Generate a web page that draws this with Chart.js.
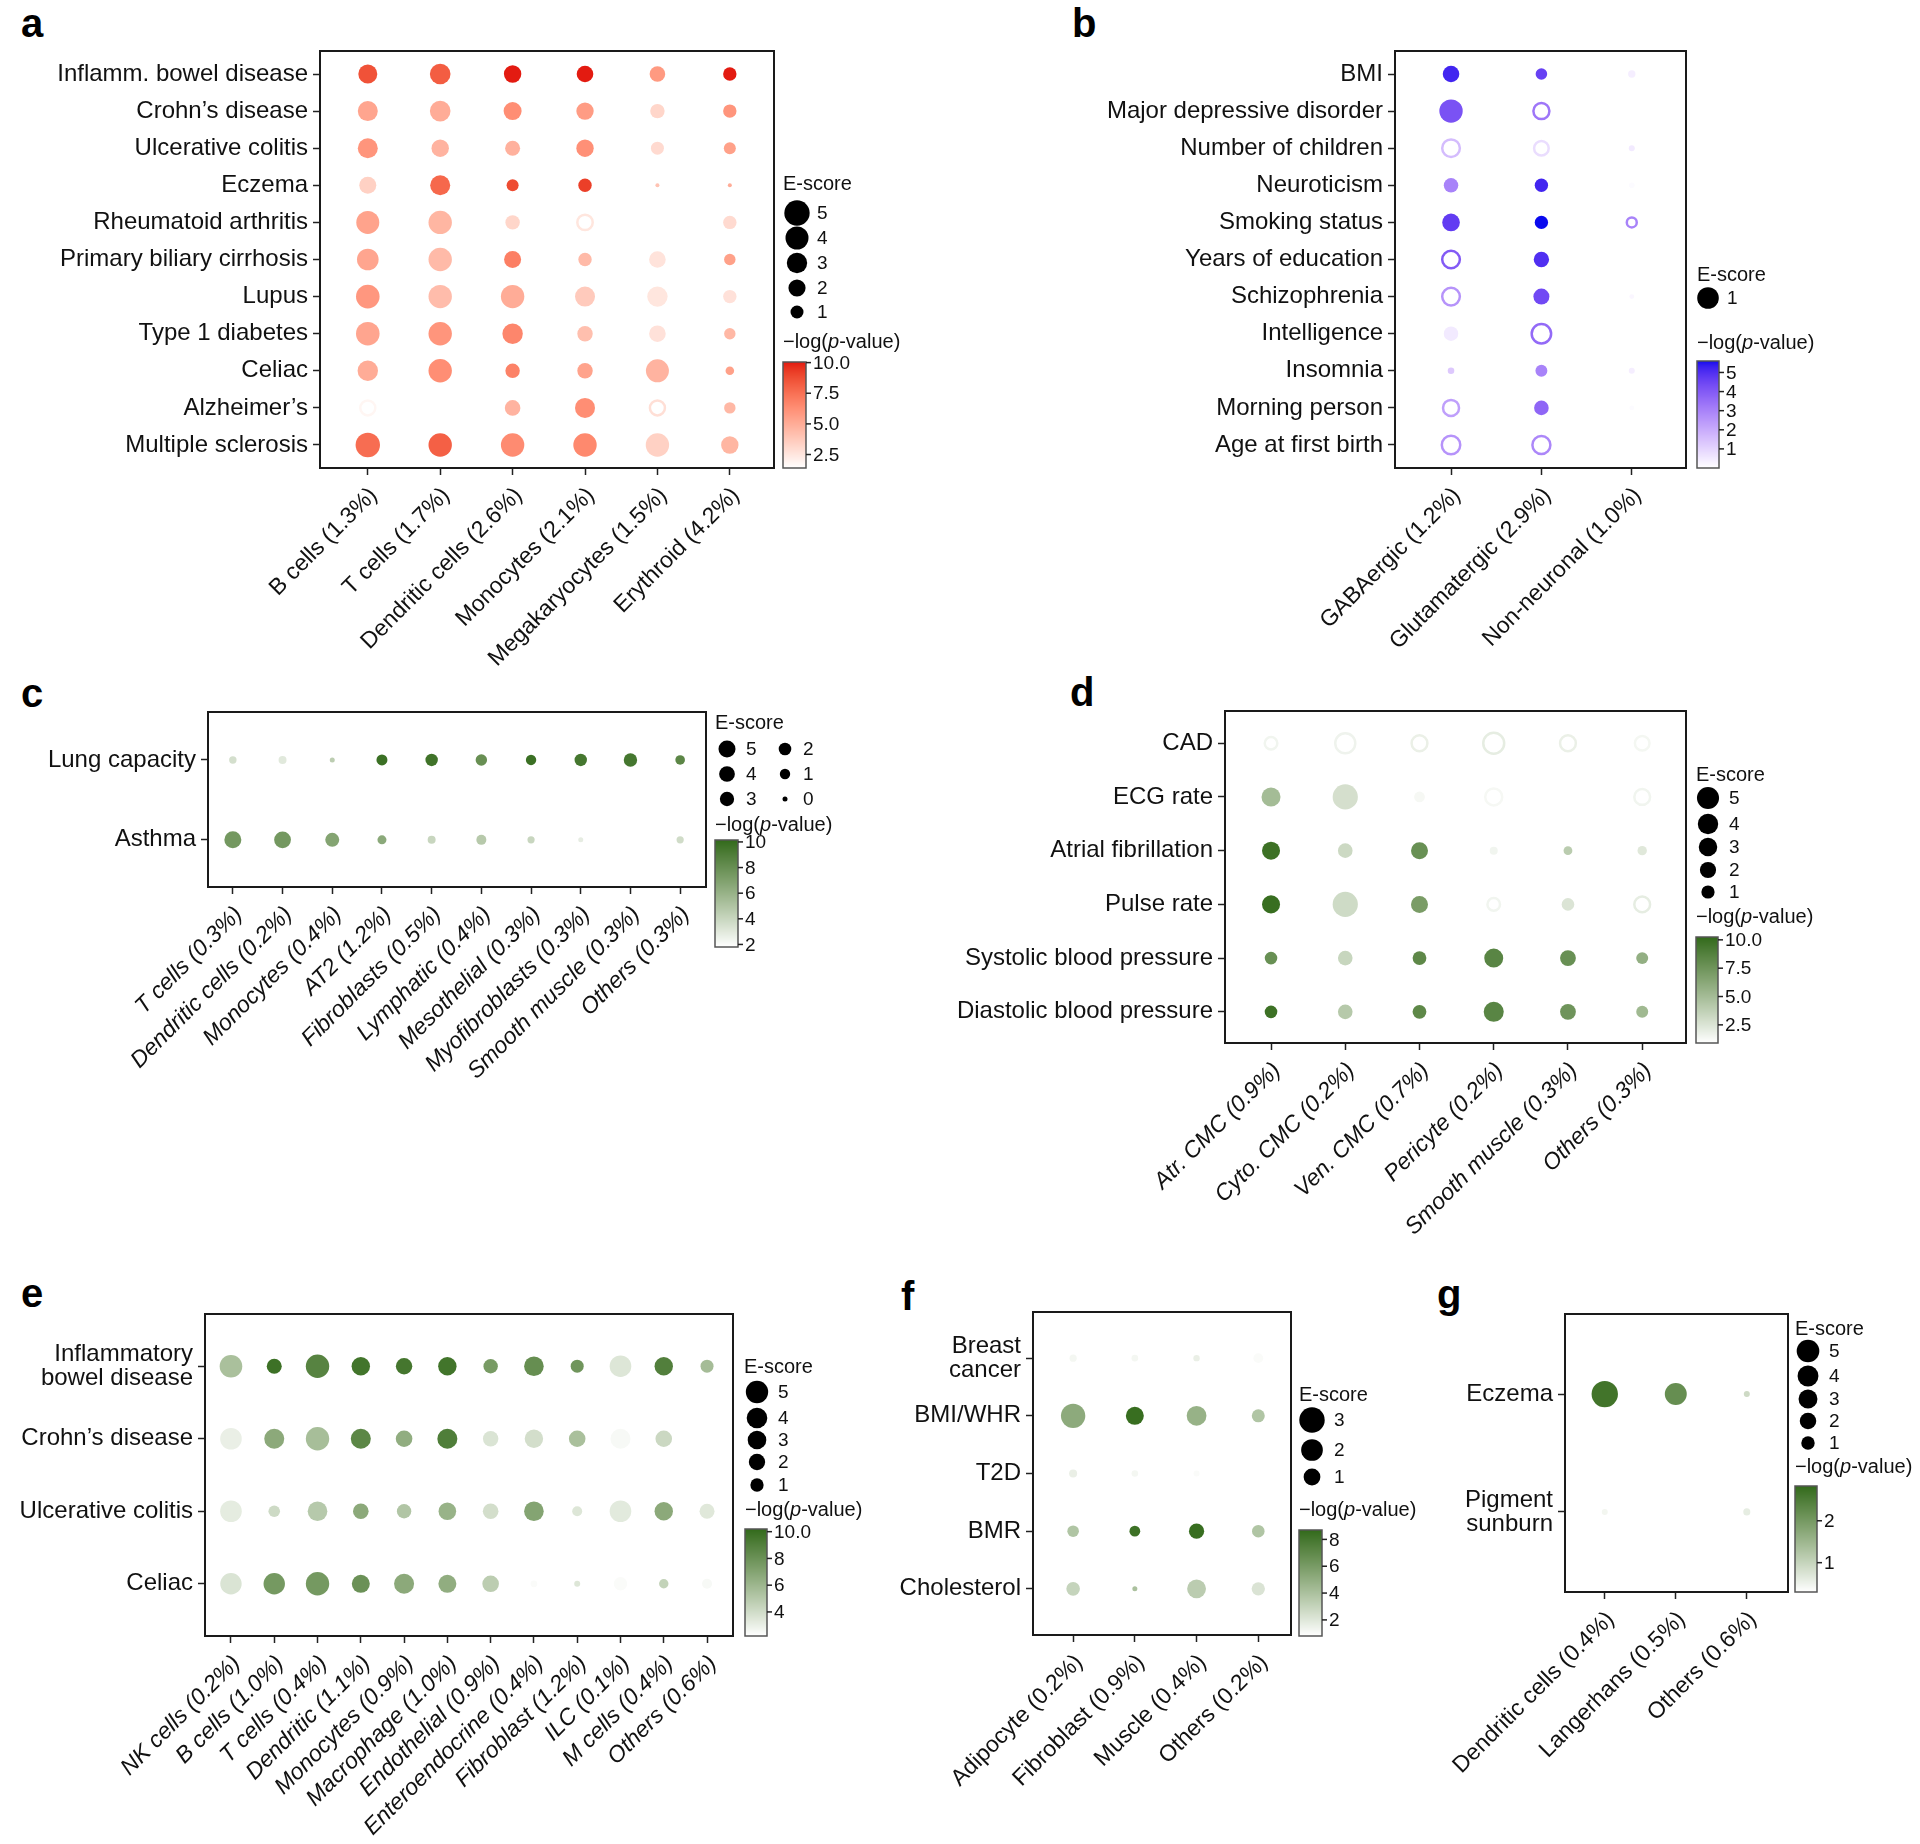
<!DOCTYPE html>
<html>
<head>
<meta charset="utf-8">
<script src="https://cdn.jsdelivr.net/npm/chart.js@4.4.1/dist/chart.umd.min.js"></script>
<style>
  body { margin: 0; width: 1920px; height: 1844px; background: #fff; position: relative; overflow: hidden;
         font-family: "Liberation Sans", Arial, Helvetica, sans-serif; }
  canvas { position: absolute; left: 0; top: 0; }
  .tag { position: absolute; font-weight: bold; font-size: 40px; line-height: 40px; color: #000; }
</style>
</head>
<body>
<div class="tag" style="left:21px;top:3px">a</div>
<div class="tag" style="left:1072px;top:3px">b</div>
<div class="tag" style="left:21px;top:673px">c</div>
<div class="tag" style="left:1070px;top:672px">d</div>
<div class="tag" style="left:21px;top:1273px">e</div>
<div class="tag" style="left:901px;top:1276px">f</div>
<div class="tag" style="left:1437px;top:1274px">g</div>
<script>
const W = 1920, H = 1844;
const FONT = '"Liberation Sans", Arial, Helvetica, sans-serif';

// ===== a: blood cell types (red) =====
const aTraits = ["Inflamm. bowel disease", "Crohn’s disease", "Ulcerative colitis", "Eczema",
  "Rheumatoid arthritis", "Primary biliary cirrhosis", "Lupus", "Type 1 diabetes", "Celiac",
  "Alzheimer’s", "Multiple sclerosis"];
const aCells = ["B cells (1.3%)", "T cells (1.7%)", "Dendritic cells (2.6%)", "Monocytes (2.1%)",
  "Megakaryocytes (1.5%)", "Erythroid (4.2%)"];
// E-score (negative = open circle), null = no dot
const aScore = [
  [2.56, 3.1, 2.07, 1.85, 1.59, 1.08],
  [2.89, 3.1, 2.25, 2.07, 1.3, 1.08],
  [2.89, 2.07, 1.44, 2.07, 1.0, 0.81],
  [1.96, 2.89, 0.81, 1.08, 0.01, 0.01],
  [4.0, 4.16, 1.3, -1.54, null, 1.08],
  [3.46, 4.16, 1.96, 1.08, 1.85, 0.71],
  [4.24, 4.16, 4.16, 2.89, 3.03, 1.08],
  [4.24, 4.16, 3.03, 1.54, 1.85, 0.71],
  [3.03, 4.16, 1.3, 1.54, 4.0, 0.31],
  [-1.44, null, 1.59, 2.89, -1.44, 0.71],
  [4.58, 4.16, 4.16, 4.16, 4.16, 2.07]
];
const aLogP = [
  [8.6, 8.2, 10.0, 10.0, 5.8, 10.0],
  [5.3, 5.0, 6.3, 5.7, 3.2, 6.0],
  [6.0, 4.7, 4.8, 6.2, 3.0, 5.5],
  [3.4, 7.8, 8.8, 9.2, 4.0, 5.0],
  [5.4, 4.6, 3.2, 2.5, null, 3.0],
  [5.3, 4.4, 6.9, 4.4, 2.6, 5.5],
  [5.9, 4.3, 5.0, 3.7, 2.5, 2.7],
  [5.3, 6.0, 6.6, 4.2, 2.7, 4.5],
  [5.0, 6.3, 6.8, 5.4, 4.7, 5.5],
  [1.8, null, 4.7, 6.3, 2.8, 4.5],
  [7.6, 8.1, 6.4, 6.5, 3.4, 4.6]
];
const aSizeBreaks = [5, 4, 3, 2, 1];
const aBarTicks = [10, 7.5, 5, 2.5];
const aBarLabels = ["10.0", "7.5", "5.0", "2.5"];

// ===== b: brain cell types (blue) =====
const bTraits = ["BMI", "Major depressive disorder", "Number of children", "Neuroticism", "Smoking status",
  "Years of education", "Schizophrenia", "Intelligence", "Insomnia", "Morning person", "Age at first birth"];
const bCells = ["GABAergic (1.2%)", "Glutamatergic (2.9%)", "Non-neuronal (1.0%)"];
const bScore = [
  [0.53, 0.21, 0.056],
  [1.2, -0.49, null],
  [-0.62, -0.39, 0.026],
  [0.38, 0.31, 0.02],
  [0.62, 0.31, -0.14],
  [-0.62, 0.44, null],
  [-0.62, 0.49, 0.01],
  [0.38, -0.78, null],
  [0.037, 0.23, 0.026],
  [-0.49, 0.39, 0.01],
  [-0.69, -0.65, null]
];
const bLogP = [
  [5.2, 4.6, 0.4],
  [4.2, 3.3, null],
  [1.6, 0.8, 0.5],
  [3.0, 5.2, 0.1],
  [4.7, 5.6, 3.0],
  [4.0, 5.0, null],
  [2.6, 4.4, 0.2],
  [0.5, 3.6, null],
  [1.3, 3.0, 0.4],
  [2.3, 3.7, 0.1],
  [2.6, 2.9, null]
];
const bSizeBreaks = [1];
const bBarTicks = [5, 4, 3, 2, 1];
const bBarLabels = ["5", "4", "3", "2", "1"];

// ===== c: lung (green) =====
const cTraits = ["Lung capacity", "Asthma"];
const cCells = ["T cells (0.3%)", "Dendritic cells (0.2%)", "Monocytes (0.4%)", "AT2 (1.2%)",
  "Fibroblasts (0.5%)", "Lymphatic (0.4%)", "Mesothelial (0.3%)", "Myofibroblasts (0.3%)",
  "Smooth muscle (0.3%)", "Others (0.3%)"];
const cScore = [
  [0.2, 0.31, 0.0, 1.25, 1.9, 1.43, 1.0, 1.9, 2.46, 0.74],
  [5.0, 4.85, 2.82, 0.56, 0.31, 0.87, 0.17, 0.0, null, 0.17]
];
const cLogP = [
  [3.5, 3.0, 4.5, 9.8, 9.6, 8.0, 9.8, 9.4, 9.4, 8.5],
  [7.5, 7.5, 6.8, 6.5, 4.0, 4.7, 4.0, 2.8, null, 3.7]
];
const cSizeBreaks = [5, 4, 3, 2, 1, 0];
const cBarTicks = [10, 8, 6, 4, 2];
const cBarLabels = ["10", "8", "6", "4", "2"];

// ===== d: heart (green) =====
const dTraits = ["CAD", "ECG rate", "Atrial fibrillation", "Pulse rate", "Systolic blood pressure",
  "Diastolic blood pressure"];
const dCells = ["Atr. CMC (0.9%)", "Cyto. CMC (0.2%)", "Ven. CMC (0.7%)", "Pericyte (0.2%)",
  "Smooth muscle (0.3%)", "Others (0.3%)"];
const dScore = [
  [-0.84, -3.8, -1.85, -4.3, -1.85, -1.43],
  [3.26, 7.1, 0.44, -2.33, null, -1.85],
  [2.8, 1.43, 2.33, 0.08, 0.15, 0.22],
  [2.8, 7.1, 2.33, -0.84, 0.84, -1.85],
  [0.84, 1.43, 1.17, 3.26, 1.85, 0.69],
  [0.84, 1.43, 1.17, 3.8, 1.85, 0.69]
];
const dLogP = [
  [1.5, 1.6, 1.8, 2.0, 1.8, 1.4],
  [5.0, 2.8, 1.3, 1.3, null, 1.5],
  [9.8, 3.2, 7.8, 1.5, 4.0, 2.3],
  [10.0, 3.1, 7.0, 1.5, 2.5, 2.0],
  [7.8, 3.4, 8.3, 8.5, 7.8, 5.8],
  [9.8, 4.2, 8.3, 8.5, 7.5, 5.2]
];
const dSizeBreaks = [5, 4, 3, 2, 1];
const dBarTicks = [10, 7.5, 5, 2.5];
const dBarLabels = ["10.0", "7.5", "5.0", "2.5"];

// ===== e: gut (green) =====
const eTraits = [["Inflammatory", "bowel disease"], "Crohn’s disease", "Ulcerative colitis", "Celiac"];
const eCells = ["NK cells (0.2%)", "B cells (1.0%)", "T cells (0.4%)", "Dendritic (1.1%)",
  "Monocytes (0.9%)", "Macrophage (1.0%)", "Endothelial (0.9%)", "Enteroendocrine (0.4%)",
  "Fibroblast (1.2%)", "ILC (0.1%)", "M cells (0.4%)", "Others (0.6%)"];
const eScore = [
  [5.17, 1.52, 5.68, 2.89, 2.03, 2.89, 1.32, 3.47, 0.92, 4.57, 2.89, 0.92],
  [4.57, 3.68, 5.68, 3.68, 2.1, 3.68, 1.66, 2.89, 2.1, 3.68, 2.1, null],
  [4.57, 0.59, 3.47, 1.73, 1.32, 2.52, 1.73, 3.47, 0.3, 4.57, 2.89, 1.52],
  [4.45, 4.45, 5.68, 2.7, 3.68, 2.7, 2.1, 0.01, 0.0, 1.03, 0.22, 0.3]
];
const eLogP = [
  [5.5, 9.8, 8.8, 9.6, 9.5, 9.6, 7.5, 8.2, 7.8, 3.5, 9.0, 5.7],
  [3.0, 6.7, 5.6, 8.6, 6.5, 9.1, 3.6, 3.9, 5.5, 2.5, 4.2, null],
  [3.2, 4.1, 5.0, 6.7, 5.2, 6.2, 3.9, 7.0, 3.5, 3.3, 6.7, 3.4],
  [3.6, 7.6, 7.6, 8.0, 6.7, 6.5, 4.8, 2.4, 3.5, 2.4, 4.5, 2.5]
];
const eSizeBreaks = [5, 4, 3, 2, 1];
const eBarTicks = [10, 8, 6, 4];
const eBarLabels = ["10.0", "8", "6", "4"];

// ===== f: adipose (green) =====
const fTraits = [["Breast", "cancer"], "BMI/WHR", "T2D", "BMR", "Cholesterol"];
const fCells = ["Adipocyte (0.2%)", "Fibroblast (0.9%)", "Muscle (0.4%)", "Others (0.2%)"];
const fScore = [
  [0.035, 0.018, 0.014, 0.165],
  [2.7, 1.21, 1.57, 0.46],
  [0.065, 0.018, 0.007, null],
  [0.31, 0.24, 0.75, 0.41],
  [0.53, 0.0, 1.37, 0.5]
];
const fLogP = [
  [1.2, 1.2, 1.6, 1.0],
  [5.2, 8.5, 4.8, 3.8],
  [1.6, 1.2, 1.0, null],
  [3.8, 8.3, 8.5, 3.8],
  [3.0, 4.0, 3.4, 2.2]
];
const fSizeBreaks = [3, 2, 1];
const fBarTicks = [8, 6, 4, 2];
const fBarLabels = ["8", "6", "4", "2"];

// ===== g: skin (green) =====
const gTraits = ["Eczema", ["Pigment", "sunburn"]];
const gCells = ["Dendritic cells (0.4%)", "Langerhans (0.5%)", "Others (0.6%)"];
const gScore = [
  [7.5, 4.6, 0.0],
  [0.0, null, 0.02]
];
const gLogP = [
  [2.65, 2.2, 0.9],
  [0.45, null, 0.6]
];
const gSizeBreaks = [5, 4, 3, 2, 1];
const gBarTicks = [2, 1];
const gBarLabels = ["2", "1"];

// ---- colour helpers (Lab interpolation from white, like ggplot gradients) ----
function hexRgb(h) { return [1, 3, 5].map(i => parseInt(h.slice(i, i + 2), 16)); }
function lin(c) { c /= 255; return c <= 0.04045 ? c / 12.92 : Math.pow((c + 0.055) / 1.055, 2.4); }
function gam(c) { c = c <= 0.0031308 ? 12.92 * c : 1.055 * Math.pow(c, 1 / 2.4) - 0.055; return Math.round(Math.max(0, Math.min(1, c)) * 255); }
function toLab(rgb) {
  const [R, G, B] = rgb.map(lin);
  const X = (0.4124 * R + 0.3576 * G + 0.1805 * B) / 0.95047;
  const Y = 0.2126 * R + 0.7152 * G + 0.0722 * B;
  const Z = (0.0193 * R + 0.1192 * G + 0.9505 * B) / 1.08883;
  const f = t => t > 0.008856 ? Math.cbrt(t) : 7.787 * t + 16 / 116;
  return [116 * f(Y) - 16, 500 * (f(X) - f(Y)), 200 * (f(Y) - f(Z))];
}
function fromLab([L, a, b]) {
  const fy = (L + 16) / 116, fx = fy + a / 500, fz = fy - b / 200;
  const inv = t => t > 0.206893 ? t * t * t : (t - 16 / 116) / 7.787;
  const X = inv(fx) * 0.95047, Y = inv(fy), Z = inv(fz) * 1.08883;
  return [3.2406 * X - 1.5372 * Y - 0.4986 * Z, -0.9689 * X + 1.8758 * Y + 0.0415 * Z,
    0.0557 * X - 0.2040 * Y + 1.0570 * Z].map(gam);
}
const WHITE_LAB = toLab([255, 255, 255]);
function colorFor(p, v) {
  const t = Math.max(0, Math.min(1, (v - p.lo) / (p.hi - p.lo)));
  const hl = p.highLab || (p.highLab = toLab(hexRgb(p.high)));
  const c = fromLab(WHITE_LAB.map((w, i) => w + (hl[i] - w) * t));
  return `rgb(${c[0]},${c[1]},${c[2]})`;
}
const rad = (p, e) => p.r0 + p.k * Math.sqrt(Math.abs(e));

// ---- frame + legends drawn on each panel's canvas ----
const panelExtras = {
  id: 'panelExtras',
  afterDatasetsDraw(chart, args, opts) {
    const p = opts.panel, ctx = chart.ctx, ca = chart.chartArea;
    ctx.save();
    ctx.strokeStyle = '#1a1a1a';
    ctx.lineWidth = 2;
    ctx.strokeRect(ca.left, ca.top, ca.right - ca.left, ca.bottom - ca.top);

    const L = p.legend;
    ctx.fillStyle = '#111';
    ctx.textAlign = 'left';
    ctx.textBaseline = 'middle';
    ctx.font = `20px ${FONT}`;
    ctx.fillText('E-score', L.title[0], L.title[1]);
    p.sizeBreaks.forEach((e, i) => {
      const [cx, cy, tx] = L.dots[i];
      ctx.beginPath();
      ctx.arc(cx, cy, rad(p, e), 0, Math.PI * 2);
      ctx.fillStyle = '#000';
      ctx.fill();
      ctx.fillStyle = '#111';
      ctx.font = `19px ${FONT}`;
      ctx.fillText(String(e), tx, cy + 1);
    });

    // −log(p-value) title with italic p
    let x = L.bar.x;
    const y = L.ptitle;
    ctx.font = `20px ${FONT}`;
    ctx.fillText('\u2212log(', x, y); x += ctx.measureText('\u2212log(').width;
    ctx.font = `italic 20px ${FONT}`;
    ctx.fillText('p', x, y); x += ctx.measureText('p').width;
    ctx.font = `20px ${FONT}`;
    ctx.fillText('-value)', x, y);

    // colour bar
    const b = L.bar;
    for (let yy = b.top; yy < b.bottom; yy++) {
      const v = p.lo + (p.hi - p.lo) * (b.bottom - yy - 0.5) / (b.bottom - b.top);
      ctx.fillStyle = colorFor(p, v);
      ctx.fillRect(b.x, yy, b.w, 1);
    }
    ctx.strokeStyle = '#555';
    ctx.lineWidth = 1.5;
    ctx.strokeRect(b.x, b.top, b.w, b.bottom - b.top);
    ctx.strokeStyle = '#222';
    ctx.fillStyle = '#111';
    ctx.font = `19px ${FONT}`;
    p.barTicks.forEach((t, i) => {
      const yy = b.bottom - (t - p.lo) / (p.hi - p.lo) * (b.bottom - b.top);
      ctx.beginPath();
      ctx.moveTo(b.x + b.w, yy);
      ctx.lineTo(b.x + b.w + 5, yy);
      ctx.stroke();
      ctx.fillText(p.barLabels[i], b.x + b.w + 7, yy + 1);
    });
    ctx.restore();
  }
};

function makePanel(p) {
  const cv = document.createElement('canvas');
  cv.width = W; cv.height = H;
  document.body.appendChild(cv);

  const pts = [];
  p.score.forEach((row, i) => row.forEach((e, j) => {
    if (e === null) return;
    pts.push({ x: j, y: i, r: rad(p, e), v: p.logp[i][j], hollow: e < 0 });
  }));

  const grid = { display: true, drawOnChartArea: false, drawTicks: true, tickLength: 7,
    tickColor: '#222', tickWidth: 1.5, color: '#222' };

  new Chart(cv, {
    type: 'bubble',
    data: {
      datasets: [{
        data: pts,
        clip: false,
        backgroundColor: c => { const d = c.raw || {}; return d.hollow ? 'rgba(0,0,0,0)' : colorFor(p, d.v || 0); },
        borderColor: c => colorFor(p, (c.raw || {}).v || 0),
        borderWidth: c => (c.raw || {}).hollow ? 2.5 : 0
      }]
    },
    options: {
      responsive: false,
      animation: false,
      events: [],
      layout: { padding: { left: 0, top: p.box.t, right: W - p.box.r, bottom: 0 } },
      plugins: { legend: { display: false }, tooltip: { enabled: false }, panelExtras: { panel: p } },
      scales: {
        x: {
          type: 'linear',
          min: -p.padX[0],
          max: p.cells.length - 1 + p.padX[1],
          afterBuildTicks: s => { s.ticks = p.cells.map((_, i) => ({ value: i })); },
          afterFit: s => { s.height = H - p.box.b; },
          grid: grid,
          border: { display: false },
          ticks: {
            autoSkip: false, minRotation: 45, maxRotation: 45, padding: 7,
            labelOffset: 6,
            color: '#111',
            font: { family: FONT, size: 23, style: p.italic ? 'italic' : 'normal' },
            callback: v => p.cells[v]
          }
        },
        y: {
          type: 'linear',
          reverse: true,
          min: -p.padY[0],
          max: p.traits.length - 1 + p.padY[1],
          afterBuildTicks: s => { s.ticks = p.traits.map((_, i) => ({ value: i })); },
          afterFit: s => { s.width = p.box.l; },
          grid: grid,
          border: { display: false },
          ticks: {
            autoSkip: false, padding: 5,
            color: '#111',
            font: { family: FONT, size: 24, lineHeight: 1.0 },
            callback: v => p.traits[v]
          }
        }
      }
    },
    plugins: [panelExtras]
  });
}

const RED = '#E3170F', BLUE = '#0A0AEE', GREEN = '#326A1A';

makePanel({
  traits: aTraits, cells: aCells, score: aScore, logp: aLogP, sizeBreaks: aSizeBreaks,
  barTicks: aBarTicks, barLabels: aBarLabels, high: RED, lo: 1.4, hi: 10.05, r0: 1.5, k: 5.0,
  box: { l: 320, r: 774, t: 51, b: 468 }, padX: [0.66, 0.61], padY: [0.62, 0.62],
  legend: { title: [783, 184], dots: [[797, 213, 817], [797, 238, 817], [797, 263, 817], [797, 288, 817], [797, 312, 817]],
    ptitle: 342, bar: { x: 783, w: 23, top: 362, bottom: 468 } }
});
makePanel({
  traits: bTraits, cells: bCells, score: bScore, logp: bLogP, sizeBreaks: bSizeBreaks,
  barTicks: bBarTicks, barLabels: bBarLabels, high: BLUE, lo: 0, hi: 5.6, r0: 1.5, k: 9.3,
  box: { l: 1395, r: 1686, t: 51, b: 468 }, padX: [0.62, 0.6], padY: [0.62, 0.62],
  legend: { title: [1697, 275], dots: [[1708, 298, 1727]], ptitle: 343, bar: { x: 1697, w: 22, top: 361, bottom: 468 } }
});
makePanel({
  traits: cTraits, cells: cCells, score: cScore, logp: cLogP, sizeBreaks: cSizeBreaks, italic: true,
  barTicks: cBarTicks, barLabels: cBarLabels, high: GREEN, lo: 1.8, hi: 10.15, r0: 2.5, k: 2.68,
  box: { l: 208, r: 706, t: 712, b: 887 }, padX: [0.5, 0.52], padY: [0.6, 0.59],
  legend: { title: [715, 723],
    dots: [[727, 749, 746], [727, 774, 746], [727, 799, 746], [785, 749, 803], [785, 774, 803], [785, 799, 803]],
    ptitle: 825, bar: { x: 715, w: 23, top: 840, bottom: 947 } }
});
makePanel({
  traits: dTraits, cells: dCells, score: dScore, logp: dLogP, sizeBreaks: dSizeBreaks, italic: true,
  barTicks: dBarTicks, barLabels: dBarLabels, high: GREEN, lo: 0.9, hi: 10.25, r0: 3, k: 3.6,
  box: { l: 1225, r: 1686, t: 711, b: 1043 }, padX: [0.62, 0.59], padY: [0.6, 0.58],
  legend: { title: [1696, 775], dots: [[1708, 798, 1729], [1708, 824, 1729], [1708, 847, 1729], [1708, 870, 1729], [1708, 892, 1729]],
    ptitle: 917, bar: { x: 1696, w: 22, top: 937, bottom: 1043 } }
});
makePanel({
  traits: eTraits, cells: eCells, score: eScore, logp: eLogP, sizeBreaks: eSizeBreaks, italic: true,
  barTicks: eBarTicks, barLabels: eBarLabels, high: GREEN, lo: 2.2, hi: 10.2, r0: 3, k: 3.65,
  box: { l: 205, r: 733, t: 1314, b: 1636 }, padX: [0.6, 0.6], padY: [0.72, 0.72],
  legend: { title: [744, 1367], dots: [[757, 1392, 778], [757, 1418, 778], [757, 1440, 778], [757, 1462, 778], [757, 1485, 778]],
    ptitle: 1510, bar: { x: 745, w: 22, top: 1529, bottom: 1636 } }
});
makePanel({
  traits: fTraits, cells: fCells, score: fScore, logp: fLogP, sizeBreaks: fSizeBreaks,
  barTicks: fBarTicks, barLabels: fBarLabels, high: GREEN, lo: 0.8, hi: 8.7, r0: 2.5, k: 5.9,
  box: { l: 1033, r: 1291, t: 1312, b: 1635 }, padX: [0.65, 0.53], padY: [0.8, 0.8],
  legend: { title: [1299, 1395], dots: [[1312, 1420, 1334], [1312, 1450, 1334], [1312, 1477, 1334]],
    ptitle: 1510, bar: { x: 1299, w: 23, top: 1530, bottom: 1636 } }
});
makePanel({
  traits: gTraits, cells: gCells, score: gScore, logp: gLogP, sizeBreaks: gSizeBreaks,
  barTicks: gBarTicks, barLabels: gBarLabels, high: GREEN, lo: 0.3, hi: 2.83, r0: 3, k: 3.72,
  box: { l: 1565, r: 1788, t: 1314, b: 1592 }, padX: [0.56, 0.58], padY: [0.68, 0.68],
  legend: { title: [1795, 1329], dots: [[1808, 1351, 1829], [1808, 1376, 1829], [1808, 1399, 1829], [1808, 1421, 1829], [1808, 1443, 1829]],
    ptitle: 1467, bar: { x: 1795, w: 22, top: 1486, bottom: 1592 } }
});
</script>
</body>
</html>
